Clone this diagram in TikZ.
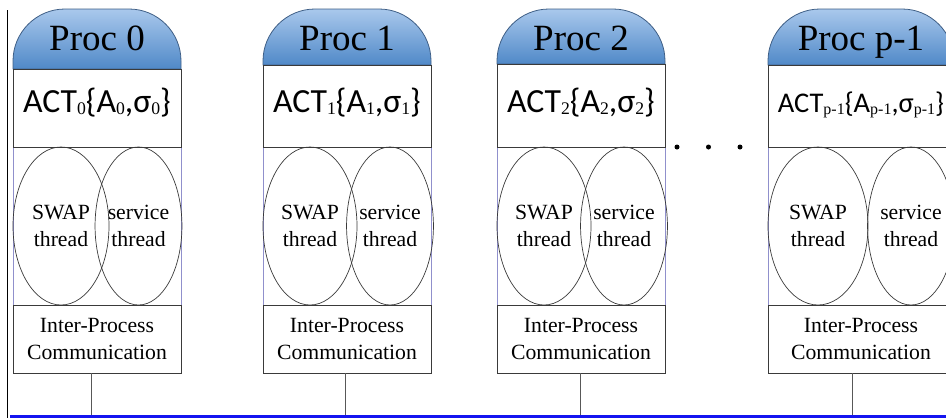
\documentclass[tikz,border=0pt]{standalone}
\usepackage{fontspec}
\setmainfont{Liberation Serif}
\newfontfamily\calibfont{Carlito}
\usetikzlibrary{shapes.geometric,calc}

\definecolor{boxline}{HTML}{3A3A3A}
\definecolor{sideline}{HTML}{9090CC}
\definecolor{domeline}{HTML}{3F5F86}
\definecolor{domelight}{HTML}{A9C8EC}
\definecolor{domedark}{HTML}{5089C8}
\definecolor{busblue}{HTML}{1414F0}

% subscript in the ACT labels: serif digits, slightly lowered
\newcommand\subsz{17.7}
\newcommand\actsub[1]{\raisebox{-1.5pt}{\rmfamily\fontsize{\subsz}{20}\selectfont #1}}

\tikzset{
  boxnode/.style={draw=boxline, line width=0.9pt, rectangle, inner sep=0pt},
  thread/.style={draw=boxline, line width=0.7pt, ellipse, inner sep=0pt,
    align=center, font=\fontsize{21.7}{26.5}\selectfont},
  ipcbox/.style={boxnode, align=center, font=\fontsize{21.7}{26.5}\selectfont},
  titletext/.style={anchor=base, inner sep=0pt, font=\fontsize{37}{40}\selectfont},
  acttext/.style={anchor=base, inner sep=0pt},
  dome/.style={draw=domeline, line width=0.8pt, top color=domelight, bottom color=domedark},
  sides/.style={draw=sideline, line width=1pt},
  conn/.style={draw=boxline!85, line width=0.9pt},
  dotnode/.style={circle, fill=black, inner sep=0pt, minimum size=5pt}
}

% one processor column
% #1 id, #2 left, #3 right, #4 title, #5 ACT label,
% #6-#7 SWAP ellipse span, #8-#9 service ellipse span
% \hb = bottom of the dome, \cx = x of the link down to the bus
\newcommand\proccol[9]{%
  \draw[sides] (#2,147) -- (#2,305) (#3,147) -- (#3,305);
  \path[dome] (#2,\hb) -- (#2,61)
    .. controls (#2,32.3) and ({#2+23.3},9) .. ({#2+52},9)
    -- ({#3-52},9)
    .. controls ({#3-23.3},9) and (#3,32.3) .. (#3,61)
    -- (#3,\hb) -- cycle;
  \node[titletext] (title#1) at ({(#2+#3)/2},50) {#4};
  \node[boxnode, minimum width={(#3-#2)*1pt}, minimum height={(147-\hb)*1pt}]
    (act#1) at ({(#2+#3)/2},{(147+\hb)/2}) {};
  \node[acttext] (acttext#1) at ({(#2+#3)/2},112.5) {#5};
  \node[thread, minimum width={(#7-#6)*1pt}, minimum height=158pt]
    (swap#1) at ({(#6+#7)/2},226) {SWAP\\thread};
  \node[thread, minimum width={(#9-#8)*1pt}, minimum height=158pt]
    (serv#1) at ({(#8+#9)/2},226) {service\\thread};
  \node[ipcbox, minimum width={(#3-#2)*1pt}, minimum height=68pt]
    (ipc#1) at ({(#2+#3)/2},339) {Inter-Process\\Communication};
  \coordinate (cx#1) at (\cx,0);
  \draw[conn] (ipc#1.south -| cx#1) -- (bus.north -| cx#1);
}

\begin{document}
\begin{tikzpicture}[x=1pt,y=-1pt]
  \useasboundingbox (0,0) rectangle (946,418);
  \clip (0,0) rectangle (946,418);

  % left rule and the shared bus
  \coordinate (ruletop) at (7.5,10);
  \coordinate (rulebot) at (7.5,420);
  \draw[black, line width=1.3pt] (ruletop) -- (rulebot);
  \node[fill=busblue, inner sep=0pt, minimum width=950pt, minimum height=5pt,
        anchor=north west] (bus) at (10,414.5) {};

  \def\hb{69}\def\cx{91}
  \proccol{0}{13}{181}{Proc 0}%
    {\calibfont\fontsize{33.8}{36}\selectfont ACT\actsub{0}\{A\actsub{0},σ\actsub{0}\}}%
    {13}{109}{96}{181}

  \def\hb{65}\def\cx{345}
  \proccol{1}{263}{431}{Proc 1}%
    {\calibfont\fontsize{33.8}{36}\selectfont ACT\actsub{1}\{A\actsub{1},σ\actsub{1}\}}%
    {263}{357}{349}{431}

  \def\hb{64}\def\cx{580}
  \proccol{2}{497}{665}{Proc 2}%
    {\calibfont\fontsize{33.8}{36}\selectfont ACT\actsub{2}\{A\actsub{2},σ\actsub{2}\}}%
    {497}{591}{583}{665}

  \renewcommand\subsz{16}
  \def\hb{65}\def\cx{852}
  \proccol{p}{768}{954}{Proc p-1}%
    {\calibfont\fontsize{28.5}{30}\selectfont ACT\actsub{p-1}\{A\actsub{p-1},σ\actsub{p-1}\}}%
    {768}{868}{868}{954}

  % ellipsis between the columns
  \node[dotnode] (dot1) at (677,147) {};
  \node[dotnode] (dot2) at (708.5,147) {};
  \node[dotnode] (dot3) at (740,147) {};
\end{tikzpicture}
\end{document}
